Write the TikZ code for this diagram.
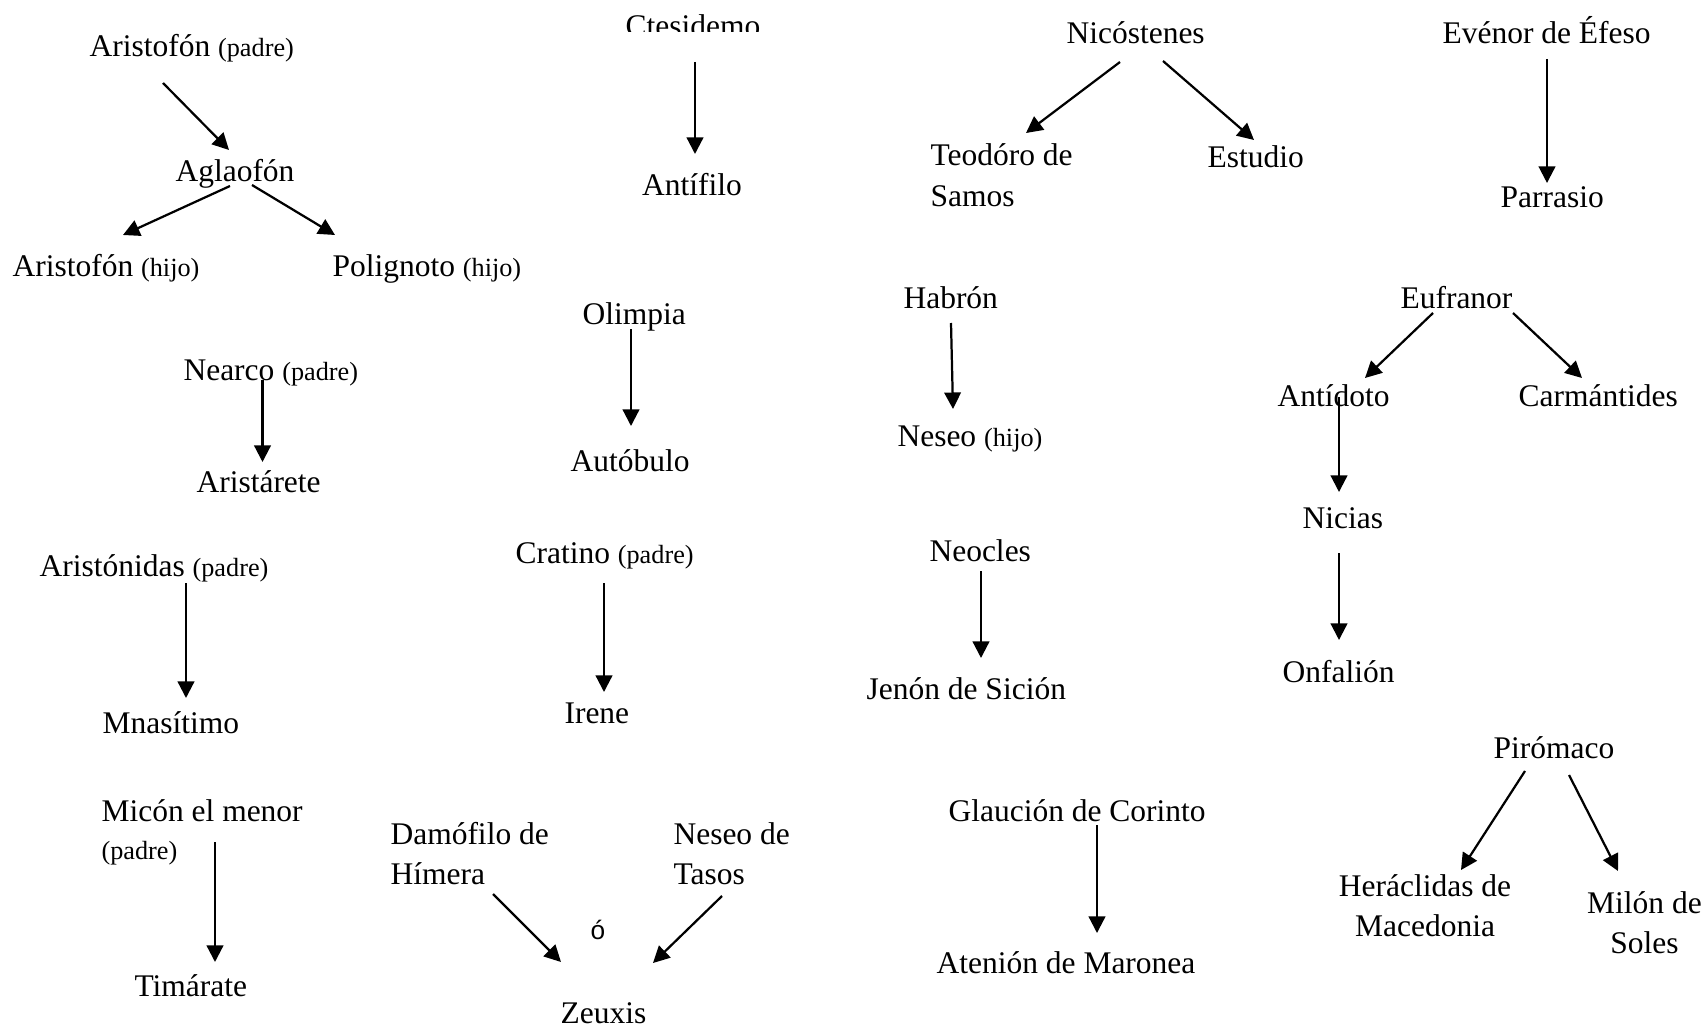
\documentclass[tikz,border=0pt]{standalone}
\usepackage{fontspec}
\setmainfont{Liberation Serif}
\newfontfamily\arialfont{Liberation Sans}
\usetikzlibrary{arrows.meta}
\newcommand{\relnote}[1]{{\fontsize{10}{12}\selectfont #1}}
\tikzset{who/.style={anchor=base west,inner sep=0pt,font=\fontsize{12}{15.24}\selectfont}, whol/.style={who,align=left}, whoc/.style={who,anchor=base,align=center}, kin/.style={-{Triangle[length=6.3pt,width=6.3pt]},line width=0.85pt}}

\begin{document}
\begin{tikzpicture}[x=0.381pt,y=-0.381pt]
\useasboundingbox (0,0) rectangle (1708,1028);
% column 1
\node[who] (aristofonP) at (89,57) {Aristofón \relnote{(padre)}};
\node[who] (aglaofon) at (175,181) {Aglaofón};
\node[who] (aristofonH) at (12,276) {Aristofón \relnote{(hijo)}};
\node[who] (polignoto) at (332,276) {Polignoto \relnote{(hijo)}};
\node[who] (nearco) at (183,380) {Nearco \relnote{(padre)}};
\node[who] (aristarete) at (196,492) {Aristárete};
\node[who] (aristonidas) at (39,576) {Aristónidas \relnote{(padre)}};
\node[who] (mnasitimo) at (102,733) {Mnasítimo};
% two-line nodes sit on their last line
\node[whol] (micon) at (101,859) {Micón el menor\\[-0.8pt]\relnote{(padre)}};
\node[who] (timarate) at (134,996) {Timárate};
% column 2
\begin{scope}
\clip (600,0) rectangle (800,32);
\node[who] (ctesidemo) at (625,36.5) {Ctesidemo};
\end{scope}
\node[who] (antifilo) at (641.5,196) {Antífilo};
\node[who] (olimpia) at (582,324) {Olimpia};
\node[who] (autobulo) at (570,471) {Autóbulo};
\node[who] (cratino) at (515,563) {Cratino \relnote{(padre)}};
\node[who] (irene) at (564,723) {Irene};
\node[whol] (damofilo) at (390,884) {Damófilo de\\Hímera};
\node[whol] (neseoT) at (673,884) {Neseo de\\Tasos};
\node[anchor=base,inner sep=0pt,font=\arialfont\fontsize{10}{12}\selectfont] (o) at (598,939) {ó};
\node[who] (zeuxis) at (560,1023) {Zeuxis};
% column 3
\node[who] (nicostenes) at (1066,44) {Nicóstenes};
\node[whol] (teodoro) at (930,206) {Teodóro de\\Samos};
\node[who] (estudio) at (1207,167) {Estudio};
\node[who] (habron) at (903,308) {Habrón};
\node[who] (neseoH) at (897,446) {Neseo \relnote{(hijo)}};
\node[who] (neocles) at (929,561) {Neocles};
\node[who] (jenon) at (866,699) {Jenón de Sición};
\node[who] (glaucion) at (948,821) {Glaución de Corinto};
\node[who] (atenion) at (936,973) {Atenión de Maronea};
% column 4
\node[who] (evenor) at (1442,44) {Evénor de Éfeso};
\node[who] (parrasio) at (1500,207) {Parrasio};
\node[who] (eufranor) at (1400,308) {Eufranor};
\node[who] (antidoto) at (1277,406) {Antídoto};
\node[who] (carmantides) at (1518,406) {Carmántides};
\node[who] (nicias) at (1302,528) {Nicias};
\node[who] (onfalion) at (1282,682) {Onfalión};
\node[who] (piromaco) at (1493,758) {Pirómaco};
\node[whoc] (heraclidas) at (1425,936) {Heráclidas de\\Macedonia};
\node[whoc] (milon) at (1644.5,953) {Milón de\\Soles};
% arrow ends
\coordinate (aristofonP-o) at (163,83);
\coordinate (aglaofon-i) at (229,150);
\coordinate (aglaofon-ol) at (230,186);
\coordinate (aristofonH-i) at (123,235);
\coordinate (aglaofon-or) at (252,185);
\coordinate (polignoto-i) at (335,235);
\coordinate (nearco-o) at (262.5,380);
\coordinate (aristarete-i) at (262.5,462);
\coordinate (aristonidas-o) at (186,583);
\coordinate (mnasitimo-i) at (186,698);
\coordinate (micon-o) at (215,842);
\coordinate (timarate-i) at (215,962);
\coordinate (ctesidemo-o) at (695,62);
\coordinate (antifilo-i) at (695,154);
\coordinate (olimpia-o) at (631,329);
\coordinate (autobulo-i) at (631,426);
\coordinate (cratino-o) at (604,583);
\coordinate (irene-i) at (604,692);
\coordinate (damofilo-o) at (493,894);
\coordinate (zeuxis-il) at (561,962);
\coordinate (neseoT-o) at (722,896);
\coordinate (zeuxis-ir) at (653,963);
\coordinate (nicostenes-ol) at (1120,62);
\coordinate (teodoro-i) at (1026,133);
\coordinate (nicostenes-or) at (1163,61);
\coordinate (estudio-i) at (1254,140);
\coordinate (habron-o) at (951,323);
\coordinate (neseoH-i) at (953,409);
\coordinate (neocles-o) at (981,571);
\coordinate (jenon-i) at (981,658);
\coordinate (glaucion-o) at (1097,825);
\coordinate (atenion-i) at (1097,933);
\coordinate (evenor-o) at (1547,59);
\coordinate (parrasio-i) at (1547,183);
\coordinate (eufranor-ol) at (1433,313);
\coordinate (antidoto-i) at (1365,378);
\coordinate (eufranor-or) at (1513,313);
\coordinate (carmantides-i) at (1582,378);
\coordinate (antidoto-o) at (1339,397);
\coordinate (nicias-i) at (1339,492);
\coordinate (nicias-o) at (1339,553);
\coordinate (onfalion-i) at (1339,640);
\coordinate (piromaco-ol) at (1525,771);
\coordinate (heraclidas-i) at (1461,870);
\coordinate (piromaco-or) at (1569,775);
\coordinate (milon-i) at (1618,871);
% arrows
\draw[kin] (aristofonP-o) -- (aglaofon-i);
\draw[kin] (aglaofon-ol) -- (aristofonH-i);
\draw[kin] (aglaofon-or) -- (polignoto-i);
\draw[kin] (nearco-o) -- (aristarete-i);
\draw[kin] (aristonidas-o) -- (mnasitimo-i);
\draw[kin] (micon-o) -- (timarate-i);
\draw[kin] (ctesidemo-o) -- (antifilo-i);
\draw[kin] (olimpia-o) -- (autobulo-i);
\draw[kin] (cratino-o) -- (irene-i);
\draw[kin] (damofilo-o) -- (zeuxis-il);
\draw[kin] (neseoT-o) -- (zeuxis-ir);
\draw[kin] (nicostenes-ol) -- (teodoro-i);
\draw[kin] (nicostenes-or) -- (estudio-i);
\draw[kin] (habron-o) -- (neseoH-i);
\draw[kin] (neocles-o) -- (jenon-i);
\draw[kin] (glaucion-o) -- (atenion-i);
\draw[kin] (evenor-o) -- (parrasio-i);
\draw[kin] (eufranor-ol) -- (antidoto-i);
\draw[kin] (eufranor-or) -- (carmantides-i);
\draw[kin] (antidoto-o) -- (nicias-i);
\draw[kin] (nicias-o) -- (onfalion-i);
\draw[kin] (piromaco-ol) -- (heraclidas-i);
\draw[kin] (piromaco-or) -- (milon-i);
\end{tikzpicture}
\end{document}
